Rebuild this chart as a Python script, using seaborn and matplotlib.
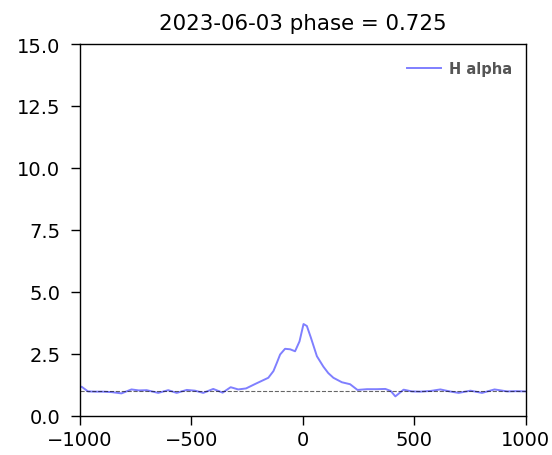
import matplotlib
matplotlib.use("Agg")
import matplotlib.pyplot as plt
import seaborn as sns
import pandas as pd

title = "2023-06-03 phase = 0.725"
series_label = "H alpha"
velocity = [-1000, -992, -963, -930, -895, -855, -813, -768, -735, -700, -648, -603, -565,
            -520, -483, -446, -401, -359, -323, -289, -254, -213, -180, -154, -131, -115,
            -101, -79, -56, -34, -14, 4, 19, 37, 64, 93, 115, 138, 176, 213, 246, 289,
            333, 371, 395, 416, 453, 490, 528, 575, 618, 660, 700, 753, 805, 861, 918,
            960, 1000]
flux = [1.15, 1.17, 0.98, 0.97, 0.97, 0.95, 0.90, 1.06, 1.02, 1.03, 0.92, 1.03, 0.92,
        1.04, 1.01, 0.92, 1.08, 0.93, 1.15, 1.06, 1.10, 1.28, 1.42, 1.53, 1.80, 2.15,
        2.47, 2.70, 2.68, 2.60, 3.00, 3.70, 3.62, 3.15, 2.40, 1.98, 1.72, 1.53, 1.35,
        1.27, 1.04, 1.07, 1.07, 1.08, 1.00, 0.78, 1.05, 0.98, 0.97, 1.00, 1.06, 0.98,
        0.92, 1.01, 0.92, 1.06, 0.98, 0.99, 0.98]
baseline = 1.0
x_limits = (-1000, 1000)
y_limits = (0, 15)
x_ticks = [-1000, -500, 0, 500, 1000]
y_ticks = [0.0, 2.5, 5.0, 7.5, 10.0, 12.5, 15.0]

df = pd.DataFrame({"velocity": velocity, "flux": flux})

fig = plt.figure(figsize=(5.52, 4.56), dpi=100)
ax = fig.add_axes([0.1445, 0.0862, 0.8075, 0.815])
sns.lineplot(data=df, x="velocity", y="flux", ax=ax, color="blue", alpha=0.5,
             linewidth=1.4, label=series_label)
ax.axhline(baseline, ls="--", color="black", lw=0.8, alpha=0.6)
ax.set_xlim(*x_limits)
ax.set_ylim(*y_limits)
ax.set_xticks(x_ticks)
ax.set_yticks(y_ticks)
ax.set_yticklabels([f"{t:.1f}" for t in y_ticks])
ax.tick_params(labelsize=14, length=6.5, width=1.0)
ax.tick_params(axis="y", pad=7.5)
ax.tick_params(axis="x", pad=3.5)
for s in ax.spines.values():
    s.set_linewidth(1.0)
ax.set_xlabel("")
ax.set_ylabel("")
ax.set_title(title, fontsize=15.4, pad=11)
ax.legend(loc="upper right", frameon=False, prop=dict(size=10.5, weight="bold"),
          labelcolor="#555555", handlelength=2.3, handletextpad=0.6,
          bbox_to_anchor=(1.0, 0.99))
fig.savefig("out.png", dpi=100)
